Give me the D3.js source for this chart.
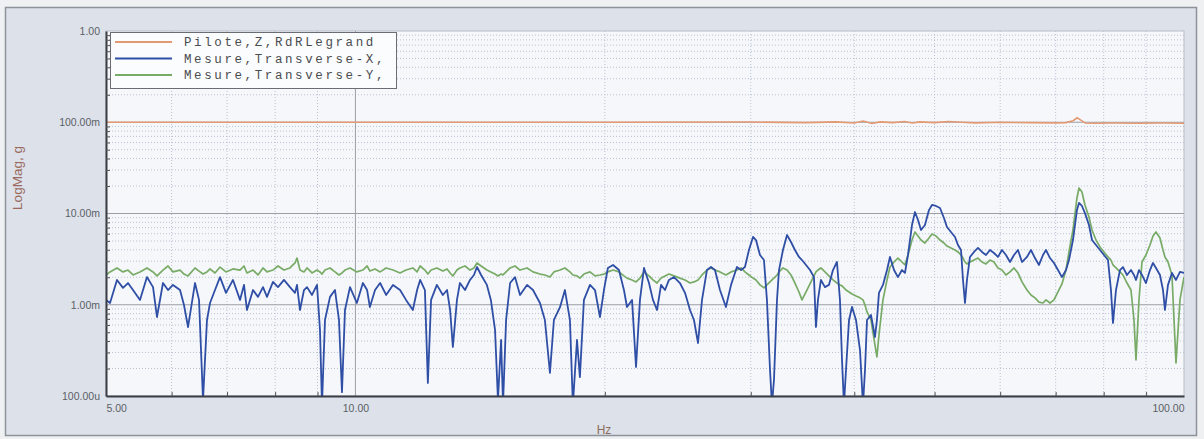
<!DOCTYPE html>
<html>
<head>
<meta charset="utf-8">
<script src="https://cdn.jsdelivr.net/npm/d3@7"></script>
<style>
  body { margin: 0; background: #eef0f2; }
  svg { display: block; }
</style>
</head>
<body>
<svg id="chart" width="1204" height="439"></svg>
<script>
// frequency grid (Hz), shared by both Mesure channels
var freqHz = [
  5.000, 5.056, 5.155, 5.242, 5.315, 5.390, 5.495, 5.603, 5.698, 5.761,
  5.858, 5.940, 6.023, 6.142, 6.210, 6.280, 6.403, 6.475, 6.547, 6.620,
  6.676, 6.769, 6.864, 6.979, 7.116, 7.256, 7.337, 7.398, 7.523, 7.628,
  7.735, 7.821, 7.953, 8.064, 8.199, 8.337, 8.454, 8.501, 8.572, 8.668,
  8.741, 8.863, 8.987, 9.062, 9.113, 9.189, 9.318, 9.448, 9.553, 9.633,
  9.714, 9.850, 10.04, 10.21, 10.33, 10.41, 10.56, 10.71, 10.89, 11.10,
  11.32, 11.51, 11.73, 11.87, 11.97, 12.13, 12.23, 12.34, 12.54, 12.75,
  12.90, 13.01, 13.11, 13.26, 13.37, 13.56, 13.75, 13.90, 14.02, 14.18,
  14.41, 14.57, 14.74, 14.86, 14.99, 15.07, 15.20, 15.37, 15.58, 15.80,
  16.11, 16.38, 16.70, 16.93, 17.17, 17.36, 17.66, 17.90, 18.15, 18.30,
  18.51, 18.66, 18.87, 19.19, 19.46, 19.73, 19.95, 20.17, 20.46, 20.80,
  21.09, 21.27, 21.57, 21.81, 22.05, 22.30, 22.61, 22.86, 23.12, 23.38,
  23.64, 23.90, 24.24, 24.64, 24.99, 25.34, 25.62, 25.91, 26.20, 26.56,
  26.86, 27.16, 27.54, 28.00, 28.40, 28.87, 29.20, 29.52, 29.85, 30.19,
  30.44, 30.78, 31.12, 31.38, 31.65, 31.82, 32.00, 32.27, 32.45, 32.81,
  33.18, 33.55, 33.92, 34.30, 34.59, 34.98, 35.37, 35.76, 35.96, 36.16,
  36.46, 36.87, 37.28, 37.70, 38.12, 38.44, 38.66, 38.87, 39.09, 39.42,
  39.75, 40.19, 40.64, 40.98, 41.21, 41.44, 41.90, 42.37, 42.60, 42.84,
  43.32, 43.81, 44.17, 44.67, 45.16, 45.67, 46.05, 46.44, 46.96, 47.35,
  47.75, 48.15, 48.68, 49.23, 49.64, 50.20, 50.76, 51.32, 51.75, 52.33,
  52.92, 53.36, 53.81, 54.11, 54.41, 54.71, 55.17, 55.79, 56.41, 57.04,
  57.68, 58.32, 58.97, 59.63, 60.30, 60.97, 61.66, 62.35, 63.04, 63.75,
  64.64, 65.36, 66.09, 66.83, 67.58, 68.14, 68.91, 69.68, 70.45, 71.24,
  72.04, 72.64, 73.45, 74.27, 74.69, 75.31, 75.94, 76.79, 77.44, 78.30,
  79.18, 80.06, 80.96, 81.63, 82.09, 82.78, 83.70, 84.40, 85.35, 86.30,
  87.02, 87.51, 88.24, 88.98, 89.97, 90.98, 91.74, 92.51, 93.54, 94.33,
  94.85, 95.65, 96.71, 97.80, 98.89, 100.0
];

// Mesure,Transverse-X, (milli g)
var transX = [
  1.13, 1.045, 1.87, 1.53, 1.73, 1.45, 1.13, 2.01, 1.56, 0.734,
  1.73, 1.45, 1.65, 1.45, 0.994, 0.570, 1.73, 1.13, 0.09, 0.681,
  1.045, 1.45, 2.01, 1.35, 1.87, 1.13, 1.65, 0.876, 1.45, 1.22,
  1.56, 1.22, 1.78, 1.56, 1.87, 1.56, 1.35, 1.65, 0.876, 1.45,
  1.56, 1.28, 1.65, 0.529, 0.08, 0.681, 1.22, 1.45, 0.681, 0.11,
  0.876, 1.56, 1.045, 1.73, 1.45, 0.945, 1.45, 1.73, 1.28, 1.65,
  1.45, 1.13, 0.876, 1.45, 1.87, 1.45, 0.139, 1.13, 1.65, 1.28,
  1.45, 0.876, 0.344, 1.13, 1.73, 1.45, 1.87, 2.12, 2.59, 2.12,
  1.65, 1.13, 0.529, 0.09, 0.411, 0.08, 0.681, 1.73, 2.01, 1.28,
  1.65, 1.45, 1.045, 0.681, 0.179, 0.681, 0.945, 1.45, 0.681, 0.08,
  0.411, 0.161, 1.13, 1.65, 1.45, 0.734, 1.45, 2.53, 2.73, 2.40,
  1.45, 0.945, 1.13, 0.208, 1.13, 2.53, 1.73, 1.13, 0.876, 1.65,
  1.45, 1.87, 2.01, 1.73, 1.35, 0.876, 0.681, 0.381, 1.13, 2.40,
  2.59, 2.40, 1.45, 0.945, 1.65, 2.59, 2.40, 2.59, 3.98, 5.53,
  5.12, 3.51, 3.09, 1.13, 0.193, 0.08, 0.150, 1.13, 2.40, 3.98,
  5.81, 4.87, 3.98, 3.34, 3.09, 2.73, 2.40, 2.01, 0.570, 1.13,
  1.87, 1.56, 1.65, 2.40, 2.94, 1.13, 0.248, 0.08, 0.193, 0.681,
  0.945, 0.681, 0.319, 0.08, 0.193, 0.681, 0.772, 0.443, 0.681, 1.35,
  1.65, 2.40, 3.34, 2.40, 2.01, 2.40, 2.23, 3.51, 7.48, 10.38,
  8.49, 6.59, 7.48, 10.9, 12.4, 12.09, 11.49, 8.93, 7.11, 6.27,
  5.53, 4.52, 3.98, 1.87, 1.045, 1.87, 3.34, 3.79, 4.19, 3.79,
  3.51, 3.98, 3.69, 3.34, 3.98, 3.51, 2.94, 3.51, 3.98, 2.94,
  3.34, 3.98, 3.25, 2.73, 3.51, 3.98, 3.25, 2.87, 2.40, 2.01,
  2.40, 3.09, 5.12, 10.9, 13.04, 12.09, 10.1, 7.48, 5.12, 4.52,
  3.98, 3.51, 3.09, 1.45, 0.631, 1.45, 2.40, 2.59, 2.12, 2.40,
  2.12, 1.87, 2.40, 2.12, 1.73, 2.40, 2.87, 2.53, 2.12, 1.45,
  0.876, 1.65, 2.23, 1.87, 2.29, 2.23
];

// Mesure,Transverse-Y, (milli g)
var transY = [
  2.12, 2.29, 2.53, 2.29, 2.40, 2.12, 2.29, 2.53, 2.29, 2.07,
  2.40, 2.66, 2.29, 2.40, 2.17, 2.07, 2.53, 2.34, 2.17, 2.29,
  2.47, 2.23, 2.59, 2.29, 2.47, 2.40, 2.66, 2.23, 2.40, 2.12,
  2.53, 2.29, 2.40, 2.66, 2.40, 2.53, 2.87, 3.25, 2.40, 2.29,
  2.53, 2.23, 2.40, 2.29, 2.17, 2.40, 2.53, 2.29, 2.12, 2.23,
  2.40, 2.53, 2.29, 2.40, 2.66, 2.34, 2.47, 2.29, 2.53, 2.40,
  2.23, 2.40, 2.53, 2.29, 2.66, 2.40, 2.17, 2.40, 2.53, 2.34,
  2.47, 2.23, 2.07, 2.40, 2.53, 2.66, 2.40, 2.53, 2.87, 2.66,
  2.40, 2.29, 2.17, 2.07, 2.17, 2.12, 2.29, 2.53, 2.66, 2.40,
  2.53, 2.29, 2.17, 2.12, 2.01, 2.29, 2.40, 2.53, 2.29, 2.12,
  2.07, 1.96, 2.17, 2.29, 2.07, 2.12, 2.17, 2.29, 2.40, 2.29,
  2.07, 1.96, 1.87, 1.78, 1.96, 2.29, 2.07, 1.87, 1.73, 1.96,
  2.07, 2.17, 2.07, 1.96, 1.87, 1.73, 1.78, 1.87, 2.12, 2.40,
  2.53, 2.40, 2.29, 2.12, 2.29, 2.40, 2.53, 2.29, 2.12, 1.96,
  1.87, 1.65, 1.53, 1.65, 1.78, 1.87, 1.96, 2.12, 2.29, 2.53,
  2.40, 2.12, 1.73, 1.38, 1.13, 1.38, 1.69, 2.07, 2.29, 2.40,
  2.53, 2.29, 2.07, 1.87, 1.73, 1.65, 1.61, 1.53, 1.45, 1.38,
  1.31, 1.25, 1.19, 1.13, 0.994, 0.833, 0.681, 0.362, 0.268, 0.466,
  1.13, 1.87, 2.59, 2.94, 3.25, 2.94, 2.73, 3.51, 5.12, 6.27,
  5.67, 5.12, 4.75, 5.39, 5.96, 5.67, 5.12, 4.75, 4.40, 4.19,
  3.98, 3.79, 3.51, 3.25, 2.94, 2.80, 2.94, 3.09, 3.25, 2.94,
  2.80, 3.09, 2.94, 2.53, 2.40, 2.12, 2.29, 2.53, 2.23, 1.78,
  1.45, 1.28, 1.19, 1.07, 1.045, 1.13, 1.045, 1.13, 1.38, 1.69,
  2.40, 3.79, 6.59, 14.8, 19.03, 17.2, 12.4, 9.15, 6.59, 5.12,
  4.30, 3.79, 3.34, 3.09, 2.73, 2.53, 2.29, 2.12, 1.73, 1.45,
  0.681, 0.248, 1.13, 2.94, 3.51, 4.52, 5.67, 6.27, 5.39, 3.98,
  3.34, 2.94, 2.12, 0.230, 1.13, 2.01
];

// Pilote,Z,RdRLegrand (milli g)
var pilotHz = [5, 10, 20, 30, 35, 38, 40, 41, 42, 43, 44.5, 46, 47, 48, 50, 52, 54, 56,
  60, 65, 70, 72, 73.5, 74.3, 75, 76, 78, 82, 88, 94, 100];
var pilot = [100, 100, 100, 100.5, 99, 101, 98, 103, 97, 101, 99, 102, 98, 101, 99, 102, 100, 98.5,
  100, 99, 98.5, 99, 104, 112, 106, 98, 97.5, 98, 97.5, 98, 97.5];

var seriesNames = ['Pilote,Z,RdRLegrand', 'Mesure,Transverse-X,', 'Mesure,Transverse-Y,'];
var seriesColors = ['#e39a72', '#2f4ea6', '#78ab66'];

var yTickValues = [1e-4, 1e-3, 1e-2, 1e-1, 1];
var yTickLabels = ['100.00u', '1.00m', '10.00m', '100.00m', '1.00'];
var xTickValues = [5, 10, 100];
var xTickLabels = ['5.00', '10.00', '100.00'];

var plotL = 106, plotR = 1184, plotT = 31, plotB = 396;

var svg = d3.select('#chart');

var x = d3.scaleLog().domain([5, 100]).range([plotL, plotR]);
var y = d3.scaleLog().domain([1e-4, 1]).range([plotB, plotT]);

// outer panel
svg.append('rect')
  .attr('x', 5.5).attr('y', 7.5).attr('width', 1191).attr('height', 428)
  .attr('fill', '#dde2ea').attr('stroke', '#8e939b').attr('stroke-width', 1.5);

svg.append('rect')
  .attr('x', plotL).attr('y', plotT).attr('width', plotR - plotL).attr('height', plotB - plotT)
  .attr('fill', '#f5f7fb').attr('stroke', '#b8bec8');

// minor grid values (2..9 in every decade)
var yMinor = [], xMinor = [];
[1e-4, 1e-3, 1e-2, 1e-1].forEach(function(d) {
  for (var k = 2; k <= 9; k++) yMinor.push(k * d);
});
[1, 10].forEach(function(d) {
  for (var k = 2; k <= 9; k++) { if (k * d > 5) xMinor.push(k * d); }
});

var grid = svg.append('g');
grid.selectAll('.hm').data(yMinor).enter().append('line')
  .attr('x1', plotL).attr('x2', plotR)
  .attr('y1', d => y(d)).attr('y2', d => y(d))
  .attr('stroke', '#b9c3d2').attr('stroke-dasharray', '1,2');
grid.selectAll('.vm').data(xMinor).enter().append('line')
  .attr('y1', plotT).attr('y2', plotB)
  .attr('x1', d => x(d)).attr('x2', d => x(d))
  .attr('stroke', '#b9c3d2').attr('stroke-dasharray', '1,2');
grid.selectAll('.hM').data([1e-3, 1e-2, 1e-1]).enter().append('line')
  .attr('x1', plotL).attr('x2', plotR)
  .attr('y1', d => y(d)).attr('y2', d => y(d))
  .attr('stroke', '#9a9ea6');
grid.append('line')
  .attr('y1', plotT).attr('y2', plotB)
  .attr('x1', x(10)).attr('x2', x(10))
  .attr('stroke', '#9a9ea6');

// data lines
svg.append('clipPath').attr('id', 'clip').append('rect')
  .attr('x', plotL).attr('y', plotT).attr('width', plotR - plotL).attr('height', plotB - plotT);

var line = d3.line().x(d => x(d[0])).y(d => y(d[1] / 1000));
var plot = svg.append('g').attr('clip-path', 'url(#clip)');

plot.append('path')
  .datum(pilotHz.map((f, i) => [f, pilot[i]]))
  .attr('d', line).attr('fill', 'none')
  .attr('stroke', seriesColors[0]).attr('stroke-width', 1.6);
plot.append('path')
  .datum(freqHz.map((f, i) => [f, transY[i]]))
  .attr('d', line).attr('fill', 'none')
  .attr('stroke', seriesColors[2]).attr('stroke-width', 1.7).attr('stroke-linejoin', 'round');
plot.append('path')
  .datum(freqHz.map((f, i) => [f, transX[i]]))
  .attr('d', line).attr('fill', 'none')
  .attr('stroke', seriesColors[1]).attr('stroke-width', 1.8).attr('stroke-linejoin', 'round');

// axes
svg.append('g').attr('transform', 'translate(' + plotL + ',0)')
  .call(d3.axisLeft(y).tickValues(yTickValues).tickSize(0).tickPadding(6)
    .tickFormat((d, i) => yTickLabels[i]));
svg.append('g').attr('transform', 'translate(' + plotL + ',0)')
  .call(d3.axisLeft(y).tickValues(yMinor).tickSize(-4).tickFormat(''))
  .call(g => g.select('.domain').remove());

var xAxis = svg.append('g').attr('transform', 'translate(0,' + plotB + ')')
  .call(d3.axisBottom(x).tickValues(xTickValues).tickSize(0).tickPadding(9)
    .tickFormat((d, i) => xTickLabels[i]));
svg.append('g').attr('transform', 'translate(0,' + plotB + ')')
  .call(d3.axisBottom(x).tickValues(xMinor).tickSize(-4).tickFormat(''))
  .call(g => g.select('.domain').remove());

xAxis.selectAll('.tick text').attr('text-anchor', (d, i) => i === 0 ? 'start' : (i === 2 ? 'end' : 'middle'));

svg.selectAll('.domain').attr('stroke', '#3a3d44').attr('stroke-width', 2);
svg.selectAll('.tick line').attr('stroke', '#555');
svg.selectAll('.tick text')
  .attr('font-family', 'Liberation Sans, Arial, sans-serif').attr('font-size', 10.5)
  .attr('fill', '#5c6066');

// axis titles
svg.append('text')
  .attr('transform', 'translate(22,178) rotate(-90)')
  .attr('text-anchor', 'middle')
  .attr('font-family', 'Liberation Sans, Arial, sans-serif').attr('font-size', 13.5)
  .attr('fill', '#9a6a5e')
  .text('LogMag, g');
svg.append('text')
  .attr('x', 604).attr('y', 434)
  .attr('text-anchor', 'middle')
  .attr('font-family', 'Liberation Sans, Arial, sans-serif').attr('font-size', 12)
  .attr('fill', '#8c6c5c')
  .text('Hz');

// legend
var legend = svg.append('g');
legend.append('rect')
  .attr('x', 110.5).attr('y', 32.5).attr('width', 286).attr('height', 56)
  .attr('fill', '#fbfcfd').attr('stroke', '#6a6e74');
var rows = legend.selectAll('.row').data(seriesNames).enter().append('g')
  .attr('transform', (d, i) => 'translate(0,' + (42 + i * 16.5) + ')');
rows.append('line')
  .attr('x1', 115).attr('x2', 172)
  .attr('stroke', (d, i) => seriesColors[i]).attr('stroke-width', 1.8);
rows.append('text')
  .attr('x', 184).attr('y', 4)
  .attr('font-family', 'Liberation Mono, Courier New, monospace').attr('font-size', 12.5)
  .attr('letter-spacing', 2.6)
  .attr('fill', '#4a4c50')
  .text(d => d);
</script>
</body>
</html>
